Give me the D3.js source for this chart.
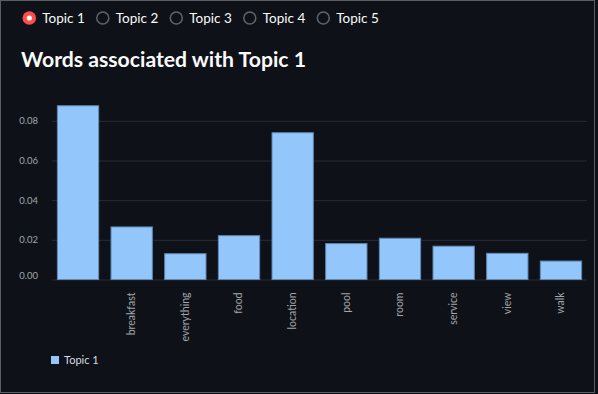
<!DOCTYPE html>
<html>
<head>
<meta charset="utf-8">
<script src="https://cdn.jsdelivr.net/npm/d3@7"></script>
<style>
  html, body { margin: 0; padding: 0; background: #0e1117; }
  svg { display: block; }
  text { font-family: Lato, "Noto Sans", sans-serif; }
</style>
</head>
<body>
<div class="chart"></div>
<script>
var topics = ["Topic 1", "Topic 2", "Topic 3", "Topic 4", "Topic 5"];
var words = ["", "breakfast", "everything", "food", "location", "pool", "room", "service", "view", "walk"];
var weights = [0.0876, 0.0265, 0.0130, 0.0221, 0.0740, 0.0181, 0.0208, 0.0168, 0.0132, 0.0093];
var yTicks = [0, 0.02, 0.04, 0.06, 0.08];

var W = 598, H = 394;
var margin = { top: 101, right: 11, bottom: 114.5, left: 52 };
var width = W - margin.left - margin.right;
var height = H - margin.top - margin.bottom;

var svg = d3.select('.chart')
  .append('svg')
    .attr('width', W)
    .attr('height', H);

// frame
svg.append('rect')
  .attr('x', 0.5).attr('y', 0.5)
  .attr('width', 594).attr('height', 392)
  .attr('fill', '#0e1117')
  .attr('stroke', '#5a5c63');

// radio buttons
var radio = svg.append('g').selectAll('g')
  .data(topics)
  .enter().append('g')
    .attr('transform', (d, i) => `translate(${29.3 + i * 73.5}, 18)`);

radio.append('circle')
  .attr('r', (d, i) => i === 0 ? 6.8 : 6)
  .attr('fill', (d, i) => i === 0 ? '#ff4b4b' : 'none')
  .attr('stroke', (d, i) => i === 0 ? 'none' : '#62646b')
  .attr('stroke-width', 1.5);

radio.filter((d, i) => i === 0).append('circle')
  .attr('r', 2.6)
  .attr('fill', '#ffffff');

radio.append('text')
  .text(d => d)
  .attr('x', 13)
  .attr('y', 5)
  .attr('fill', '#fafafa')
  .style('font-size', '13.5px');

// title
svg.append('text')
  .text('Words associated with ' + topics[0])
  .attr('x', 21)
  .attr('y', 67)
  .attr('fill', '#fafafa')
  .style('font-size', '21.2px')
  .style('font-weight', 'bold');

var g = svg.append('g')
  .attr('transform', `translate(${margin.left}, ${margin.top})`);

var xScale = d3.scaleBand()
  .domain(words)
  .range([0, width])
  .paddingInner(0.23)
  .paddingOuter(0.1);

var yScale = d3.scaleLinear()
  .domain([0, 0.09])
  .range([height, 0]);

// y axis with grid
var yAxis = d3.axisLeft(yScale)
  .tickValues(yTicks)
  .tickSize(-width)
  .tickPadding(14)
  .tickFormat(d3.format('.2f'));

var yg = g.append('g').call(yAxis);
yg.select('.domain').remove();
yg.selectAll('.tick line')
  .attr('stroke', '#2a2c33')
  .attr('x1', 0);
yg.selectAll('.tick text')
  .attr('fill', '#a3a6ad')
  .style('font-size', '9.5px');
yg.selectAll('.tick').filter(d => d === 0).select('text')
  .attr('dy', '-0.1em');

// bars
g.selectAll('.bar')
  .data(weights)
  .enter().append('rect')
    .attr('class', 'bar')
    .attr('x', (d, i) => xScale(words[i]))
    .attr('y', d => yScale(d))
    .attr('width', xScale.bandwidth())
    .attr('height', d => height - yScale(d))
    .attr('fill', '#93c7fb')
    .attr('stroke', '#5f88b3')
    .attr('stroke-width', 1);

// x axis
var xAxis = d3.axisBottom(xScale).tickSize(0).tickPadding(0);
var xg = g.append('g')
  .attr('transform', `translate(0, ${height})`)
  .call(xAxis);
xg.select('.domain').remove();
xg.selectAll('.tick text')
  .attr('fill', '#a3a6ad')
  .style('font-size', '10.5px')
  .attr('transform', 'rotate(-90)')
  .attr('text-anchor', 'end')
  .attr('x', -13)
  .attr('y', 0)
  .attr('dy', '0.32em');

// legend
var legend = svg.append('g')
  .attr('transform', 'translate(51, 356)');
legend.append('rect')
  .attr('width', 8).attr('height', 8)
  .attr('fill', '#93c7fb');
legend.append('text')
  .text(topics[0])
  .attr('x', 13)
  .attr('y', 7.5)
  .attr('fill', '#dcdde0')
  .style('font-size', '11px');
</script>
</body>
</html>
